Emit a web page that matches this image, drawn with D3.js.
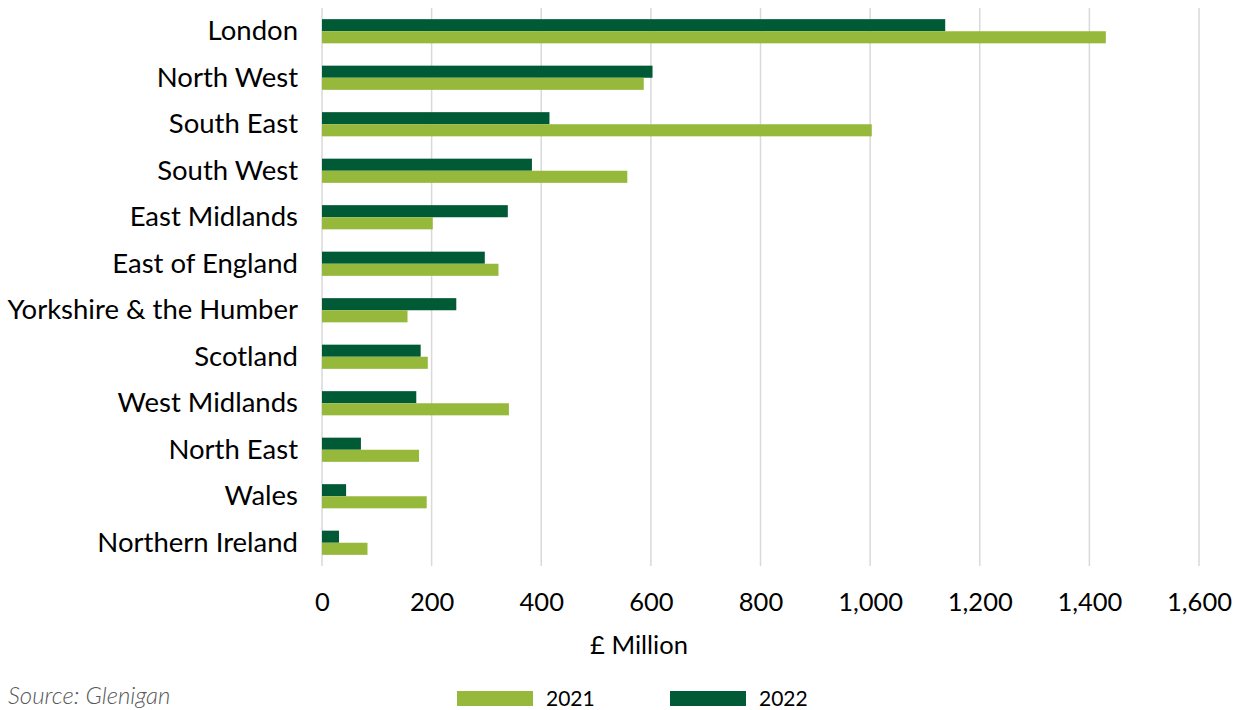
<!DOCTYPE html>
<html>
<head>
<meta charset="utf-8">
<script src="https://cdn.jsdelivr.net/npm/d3@7"></script>
<style>
  html, body { margin: 0; padding: 0; background: #fff; overflow: hidden; }
  svg { display: block; }
  text { font-family: "Source Sans Pro", Lato, "Noto Sans", sans-serif; }
</style>
</head>
<body>
<svg id="chart" width="1237" height="710"></svg>
<script>
// Construction value by region, £ million
const regions = ["London", "North West", "South East", "South West", "East Midlands",
  "East of England", "Yorkshire & the Humber", "Scotland", "West Midlands",
  "North East", "Wales", "Northern Ireland"];
const values2022 = [1137, 603, 415, 383, 339, 297, 245, 180, 172, 71, 44, 31];
const values2021 = [1430, 587, 1003, 557, 202, 322, 156, 193, 341, 177, 191, 83];
const xTicks = [0, 200, 400, 600, 800, 1000, 1200, 1400, 1600];
const seriesNames = ["2021", "2022"];
const colors = { "2021": "#96b83b", "2022": "#005a36" };

const svg = d3.select("#chart");
const plot = { left: 322, right: 1199, top: 8, bottom: 566 };
const fontStack = '"Source Sans Pro", Lato, "Noto Sans", sans-serif';

const x = d3.scaleLinear().domain([0, 1600]).range([plot.left, plot.right]);
const y = d3.scaleBand().domain(regions).range([plot.top, plot.bottom]).paddingInner(0.48).paddingOuter(0.24);
const sub = d3.scaleBand().domain(["2022", "2021"]).range([0, y.bandwidth()]);

// vertical gridlines
svg.append("g").selectAll("line").data(xTicks).join("line")
  .attr("x1", d => x(d)).attr("x2", d => x(d))
  .attr("y1", plot.top).attr("y2", plot.bottom)
  .attr("stroke", "#d9d9d9").attr("stroke-width", 1.5);

// bars
const rows = regions.map((r, i) => ({ region: r, "2022": values2022[i], "2021": values2021[i] }));
const groups = svg.append("g").selectAll("g").data(rows).join("g")
  .attr("transform", d => `translate(0,${y(d.region)})`);
groups.selectAll("rect").data(d => ["2022", "2021"].map(k => ({ key: k, value: d[k] })))
  .join("rect")
  .attr("x", x(0))
  .attr("y", d => sub(d.key))
  .attr("width", d => x(d.value) - x(0))
  .attr("height", sub.bandwidth())
  .attr("fill", d => colors[d.key]);

// category axis
const yAxis = svg.append("g").attr("transform", `translate(${plot.left},0)`)
  .call(d3.axisLeft(y).tickSize(0).tickPadding(24));
yAxis.select(".domain").remove();
yAxis.selectAll("text").attr("font-size", 27.5).attr("fill", "#000")
  .style("font-family", fontStack);

// value axis
const xAxis = svg.append("g").attr("transform", `translate(0,${plot.bottom})`)
  .call(d3.axisBottom(x).tickValues(xTicks).tickSize(0).tickPadding(27).tickFormat(d3.format(",")));
xAxis.select(".domain").remove();
xAxis.selectAll("text").attr("font-size", 25.5).attr("fill", "#000")
  .style("font-family", fontStack);

svg.append("text").attr("x", 639).attr("y", 654).attr("text-anchor", "middle")
  .attr("font-size", 25.5).attr("fill", "#000").text("£ Million");

// legend
const legend = svg.append("g");
const legendX = { "2021": 457, "2022": 670 };
seriesNames.forEach(k => {
  legend.append("rect").attr("x", legendX[k]).attr("y", 691).attr("width", 76).attr("height", 15)
    .attr("fill", colors[k]);
  legend.append("text").attr("x", legendX[k] + 89).attr("y", 706)
    .attr("font-size", 21).attr("fill", "#000").text(k);
});

// source note
svg.append("text").attr("x", 8).attr("y", 704).attr("font-size", 24)
  .attr("font-style", "italic").attr("font-weight", 300).attr("fill", "#595959").text("Source: Glenigan");
</script>
</body>
</html>
